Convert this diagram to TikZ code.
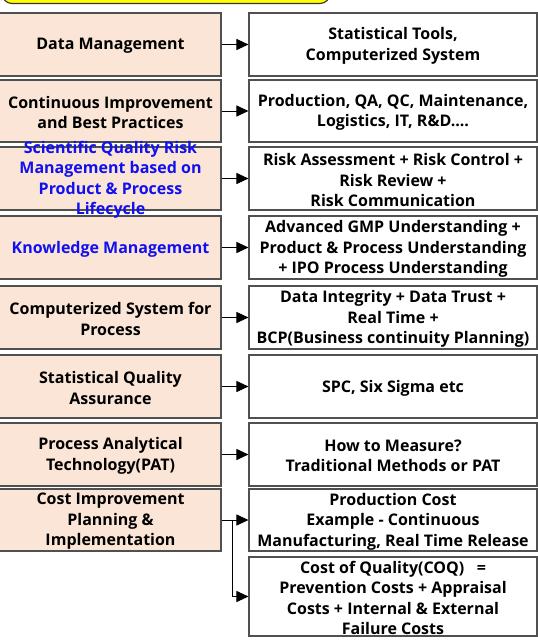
\documentclass[tikz,border=0pt]{standalone}
\usepackage{fontspec}
\setmainfont{Open Sans}
\usetikzlibrary{arrows.meta,calc}
\definecolor{peach}{HTML}{FBE5D6}
\definecolor{edge}{HTML}{505050}
\definecolor{qblue}{HTML}{1010F0}
\definecolor{ybox}{HTML}{FFFF00}
\begin{document}
\begin{tikzpicture}[x=1pt,y=-1pt,
  lbox/.style={draw=edge, line width=1.1pt, fill=peach, inner sep=0pt, minimum width=223pt},
  rbox/.style={draw=edge, line width=1.1pt, fill=white, inner sep=0pt, minimum width=288pt},
  txt/.style={align=center, inner sep=0pt, yshift=-1.5pt, font=\fontsize{16}{20.5}\selectfont\bfseries, text=black},
  btxt/.style={txt, text=qblue},
  arr/.style={draw=black, line width=1pt, -{Triangle[length=12pt,width=11pt]}},
  titlebox/.style={draw=black!80, line width=1.1pt, fill=ybox, rounded corners=10pt, inner sep=0pt}
]
\useasboundingbox (0,0) rectangle (538,641);
\node[titlebox, minimum width=328pt, minimum height=40pt] (title) at (166,-16.5) {};
% left boxes
\node[lbox, minimum height=63pt] (L1) at (109.5,44.5) {};
\node[lbox, minimum height=62pt] (L2) at (109.5,111) {};
\node[lbox, minimum height=63pt] (L3) at (109.5,178.5) {};
\node[lbox, minimum height=63pt] (L4) at (109.5,247.5) {};
\node[lbox, minimum height=63pt] (L5) at (109.5,317.5) {};
\node[lbox, minimum height=63pt] (L6) at (109.5,386.5) {};
\node[lbox, minimum height=63pt] (L7) at (109.5,454.5) {};
\node[lbox, minimum height=62pt] (L8) at (109.5,520) {};
% right boxes
\node[rbox, minimum height=63pt] (R1) at (393,44.5) {};
\node[rbox, minimum height=62pt] (R2) at (393,111) {};
\node[rbox, minimum height=63pt] (R3) at (393,178.5) {};
\node[rbox, minimum height=63pt] (R4) at (393,247.5) {};
\node[rbox, minimum height=63pt] (R5) at (393,317.5) {};
\node[rbox, minimum height=63pt] (R6) at (393,386.5) {};
\node[rbox, minimum height=63pt] (R7) at (393,454.5) {};
\node[rbox, minimum height=62pt] (R8) at (393,520) {};
\node[rbox, minimum height=79pt] (R9) at (393,596.5) {};
% left texts
\node[txt] (tL1) at ($(L1.center)+(1,0)$) {Data Management};
\node[txt] (tL2) at ($(L2.center)+(1,0)$) {Continuous Improvement\\and Best Practices};
\node[btxt] (tL3) at ($(L3.center)+(1,0)$) {Scientific Quality Risk\\Management based on\\Product \& Process\\Lifecycle};
\node[btxt] (tL4) at ($(L4.center)+(1,0)$) {Knowledge Management};
\node[txt] (tL5) at ($(L5.center)+(1,0)$) {Computerized System for\\Process};
\node[txt] (tL6) at ($(L6.center)+(1,0)$) {Statistical Quality\\Assurance};
\node[txt] (tL7) at ($(L7.center)+(1,0)$) {Process Analytical\\Technology(PAT)};
\node[txt] (tL8) at ($(L8.center)+(1,0)$) {Cost Improvement\\Planning \&\\Implementation};
% right texts
\node[txt] (tR1) at (R1.center) {Statistical Tools,\\Computerized System};
\node[txt] (tR2) at (R2.center) {Production, QA, QC, Maintenance,\\Logistics, IT, R\&D....};
\node[txt] (tR3) at (R3.center) {Risk Assessment + Risk Control +\\Risk Review +\\Risk Communication};
\node[txt] (tR4) at (R4.center) {Advanced GMP Understanding +\\Product \& Process Understanding\\+ IPO Process Understanding};
\node[txt] (tR5) at (R5.center) {Data Integrity + Data Trust +\\Real Time +\\BCP(Business continuity Planning)};
\node[txt] (tR6) at (R6.center) {SPC, Six Sigma etc};
\node[txt] (tR7) at (R7.center) {How to Measure?\\Traditional Methods or PAT};
\node[txt] (tR8) at (R8.center) {Production Cost\\Example - Continuous\\Manufacturing, Real Time Release};
\node[txt] (tR9) at (R9.center) {Cost of Quality(COQ) \ \ =\\Prevention Costs + Appraisal\\Costs + Internal \& External\\Failure Costs};
% connectors
\foreach \i in {1,...,8}{\draw[arr] (L\i.east) -- (R\i.west);}
\coordinate (br) at ($(L8.east)+(11,0)$);
\draw[arr] (br) |- (R9.west);
\end{tikzpicture}
\end{document}
